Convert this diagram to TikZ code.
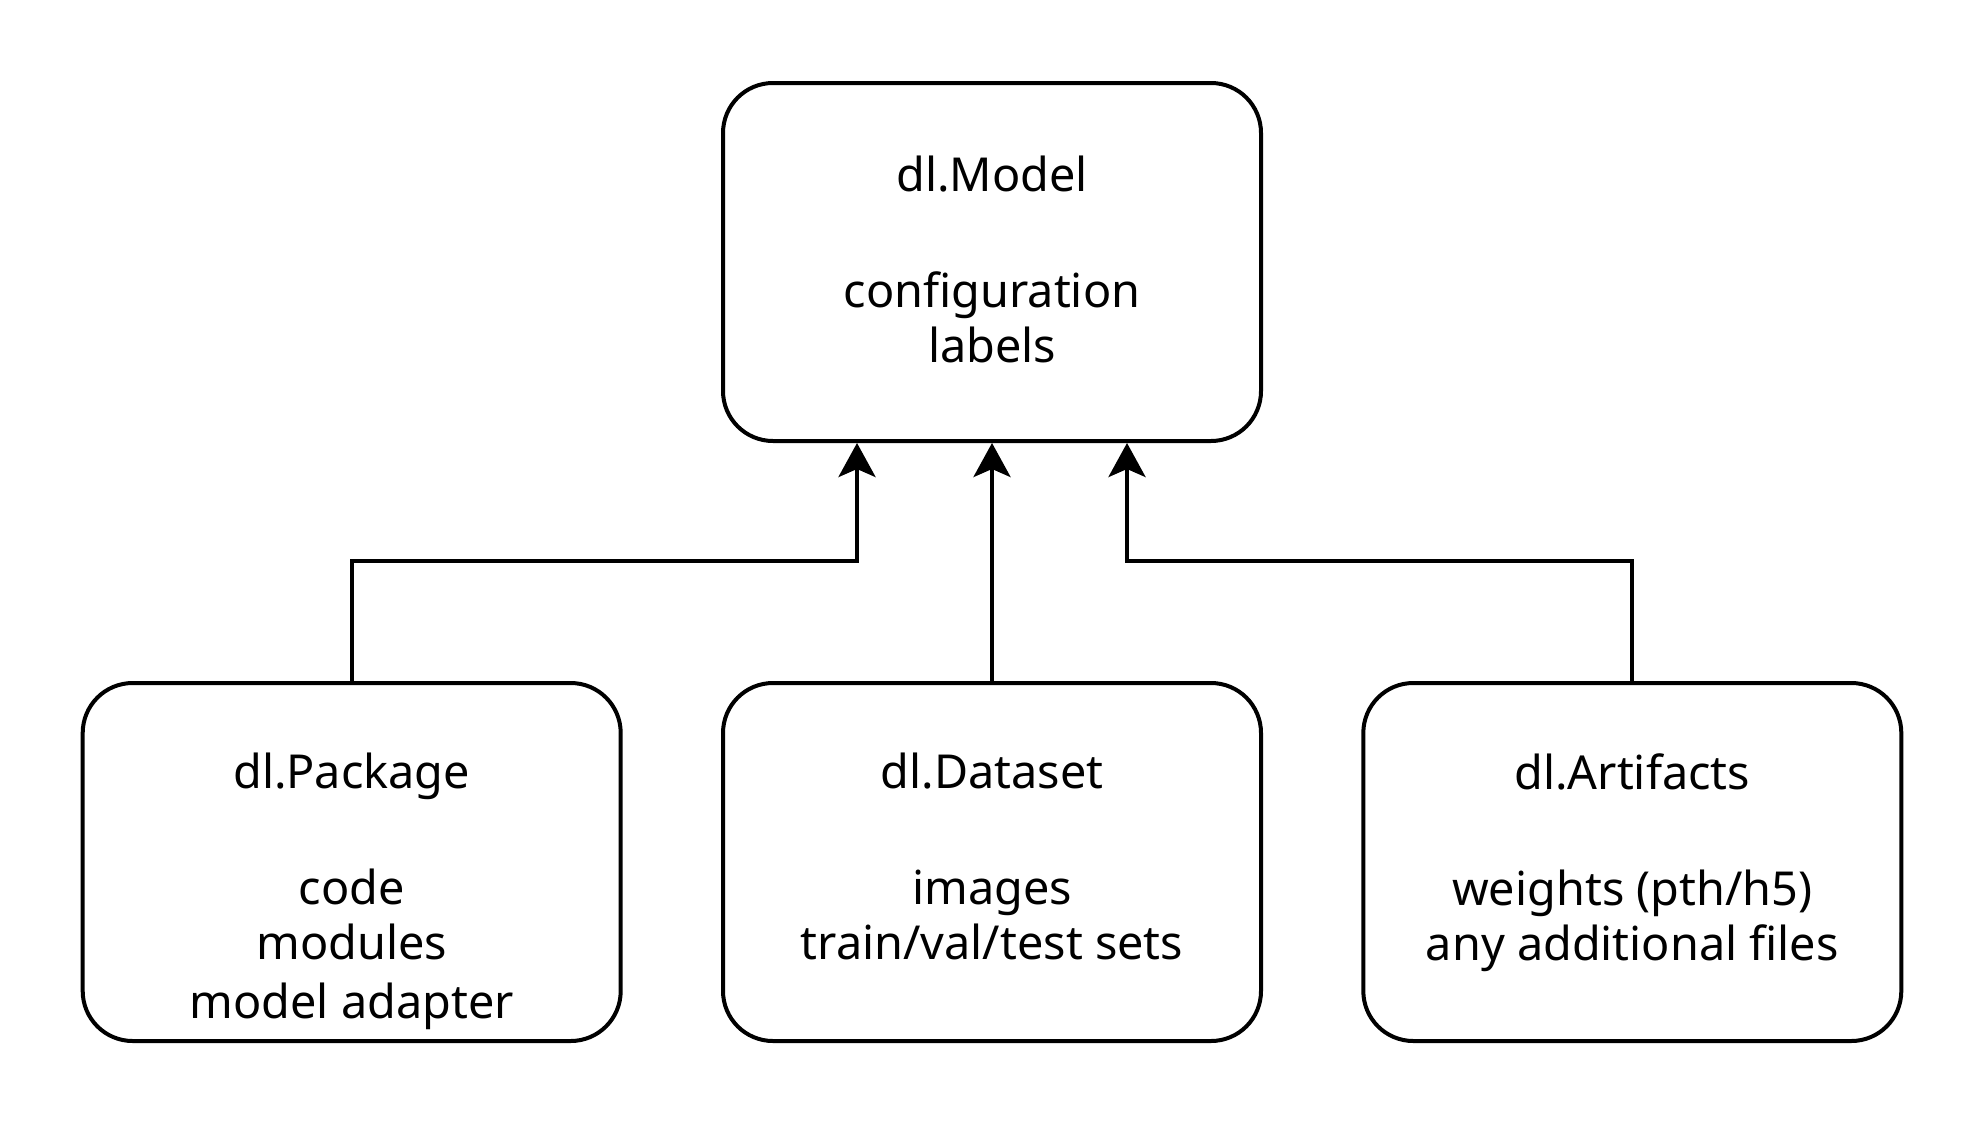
\documentclass[tikz,border=0pt]{standalone}
\usepackage{fontspec}
\setmainfont{Noto Sans}
\usetikzlibrary{arrows.meta,positioning}
\begin{document}
\begin{tikzpicture}[x=0.5pt,y=-0.5pt,
  box/.style={draw, line width=2pt, rounded corners=25pt, minimum width=269pt, minimum height=179pt, inner sep=0pt},
  txt/.style={anchor=north, inner sep=0pt, align=center, font=\fontsize{23.4}{27.5}\selectfont},
  conn/.style={line width=2pt, -{Stealth[length=17pt,width=18.5pt,inset=4pt]}}]
\useasboundingbox (0,0) rectangle (1984,1124);
\node[box] (m) at (992,262) {};
\node[box] (p) at (351.7,862) {};
\node[box] (d) at (992,862) {};
\node[box] (a) at (1632.3,862) {};
\node[txt] (mt) at ([yshift=-37.5pt]m.north) {dl.Model\\[30.5pt]configuration\\labels};
\node[txt] (pt) at ([yshift=-36pt]p.north) {dl.Package\\[30.5pt]code\\modules\\[2pt]model adapter};
\node[txt] (dt) at ([yshift=-36pt]d.north) {dl.Dataset\\[30.5pt]images\\train/val/test sets};
\node[txt] (at) at ([yshift=-36pt]a.north) {dl.Artifacts\\[30.5pt]weights (pth/h5)\\any additional files};
\coordinate (ml) at ([xshift=-67.5pt]m.south);
\coordinate (mr) at ([xshift=67.5pt]m.south);
\draw[conn] (p.north) -- (p.north |- 0,560.5) -- (ml |- 0,560.5) -- (ml);
\draw[conn] (d.north) -- (m.south);
\draw[conn] (a.north) -- (a.north |- 0,560.5) -- (mr |- 0,560.5) -- (mr);
\end{tikzpicture}
\end{document}
